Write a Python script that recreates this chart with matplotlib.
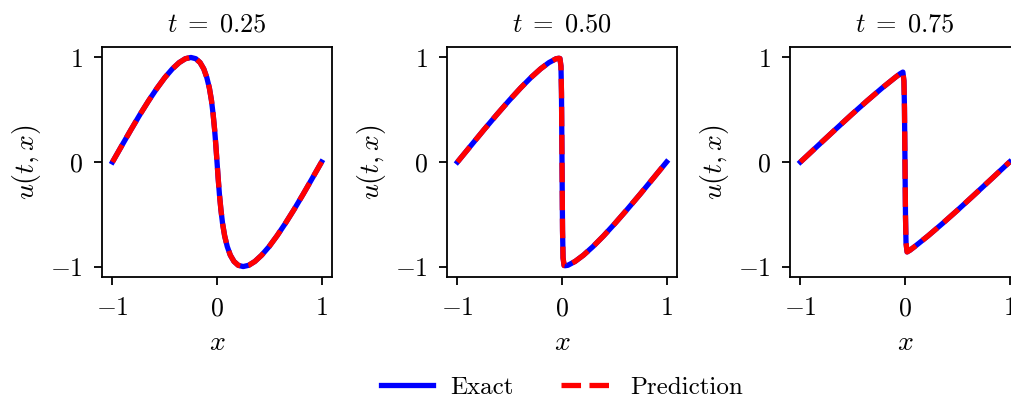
import matplotlib
matplotlib.use("Agg")
import matplotlib.pyplot as plt

plt.rcParams["mathtext.fontset"] = "cm"
plt.rcParams["font.family"] = "serif"
plt.rcParams["font.serif"] = ["cmr10", "DejaVu Serif"]
plt.rcParams["axes.unicode_minus"] = True

# values (left half; the right half mirrors it)
times = ["0.25", "0.50", "0.75"]

x_t025 = [-1.0, -0.911, -0.823, -0.737, -0.653, -0.573, -0.498, -0.427, -0.362, -0.303,
          -0.25, -0.203, -0.162, -0.127, -0.098, -0.073, -0.053, -0.037, -0.023, -0.011, 0.0,
          0.011, 0.023, 0.037, 0.053, 0.073, 0.098, 0.127, 0.162, 0.203, 0.25,
          0.303, 0.362, 0.427, 0.498, 0.573, 0.653, 0.737, 0.823, 0.911, 1.0]
u_t025 = [0.0, 0.156, 0.309, 0.454, 0.588, 0.707, 0.809, 0.891, 0.951, 0.988,
          1.0, 0.988, 0.951, 0.891, 0.809, 0.707, 0.588, 0.454, 0.309, 0.156, 0.0,
          -0.156, -0.309, -0.454, -0.588, -0.707, -0.809, -0.891, -0.951, -0.988, -1.0,
          -0.988, -0.951, -0.891, -0.809, -0.707, -0.588, -0.454, -0.309, -0.156, 0.0]

x_t050 = [-1.0, -0.872, -0.746, -0.623, -0.506, -0.397, -0.296, -0.205, -0.125, -0.056,
          -0.03, -0.02, -0.01, -0.005, 0.0, 0.005, 0.01, 0.02, 0.03,
          0.056, 0.125, 0.205, 0.296, 0.397, 0.506, 0.623, 0.746, 0.872, 1.0]
u_t050 = [0.0, 0.156, 0.309, 0.454, 0.588, 0.707, 0.809, 0.891, 0.951, 0.988,
          0.992, 0.990, 0.917, 0.656, 0.0, -0.656, -0.917, -0.990, -0.992,
          -0.988, -0.951, -0.891, -0.809, -0.707, -0.588, -0.454, -0.309, -0.156, 0.0]

x_t075 = [-1.0, -0.833, -0.668, -0.510, -0.359, -0.220, -0.093, -0.047, -0.02, -0.01,
          -0.005, 0.0, 0.005, 0.01, 0.02, 0.047, 0.093, 0.220, 0.359, 0.510, 0.668, 0.833, 1.0]
u_t075 = [0.0, 0.156, 0.309, 0.454, 0.588, 0.707, 0.809, 0.844, 0.86, 0.775,
          0.52, 0.0, -0.52, -0.775, -0.86, -0.844, -0.809, -0.707, -0.588, -0.454, -0.309, -0.156, 0.0]

xs = [x_t025, x_t050, x_t075]
u_exact = [u_t025, u_t050, u_t075]
u_pred = [u_t025, u_t050, u_t075]

ticks = [-1, 0, 1]
tick_labels = ["$-1$", "$0$", "$1$"]

fig = plt.figure(figsize=(10.12, 4.01), dpi=100)
lefts = [0.1008, 0.4417, 0.7806]

for i in range(3):
    ax = fig.add_axes([lefts[i], 0.3092, 0.2273, 0.5736])
    l1, = ax.plot(xs[i], u_exact[i], color="blue", lw=3.8, label="Exact")
    l2, = ax.plot(xs[i], u_pred[i], color="red", lw=3.8, ls="--", label="Prediction")
    ax.set_xlim(-1.1, 1.1)
    ax.set_ylim(-1.1, 1.1)
    ax.set_xticks(ticks)
    ax.set_xticklabels(tick_labels)
    ax.set_yticks(ticks)
    ax.set_yticklabels(tick_labels)
    ax.tick_params(labelsize=18.5, width=1.3, length=6, pad=8)
    for s in ax.spines.values():
        s.set_linewidth(1.3)
    ax.set_xlabel("$x$", fontsize=20, labelpad=7)
    ax.set_ylabel("$u(t,x)$", fontsize=20, labelpad=5)
    ax.set_title(r"$t \;=\; " + times[i] + "$", fontsize=19, pad=11)

fig.legend([l1, l2], ["Exact", "Prediction"], loc="center", bbox_to_anchor=(0.555, 0.033),
           ncol=2, frameon=False, fontsize=18, handlelength=2.1, handletextpad=0.67,
           columnspacing=1.9)

fig.savefig("out.png", dpi=100)
